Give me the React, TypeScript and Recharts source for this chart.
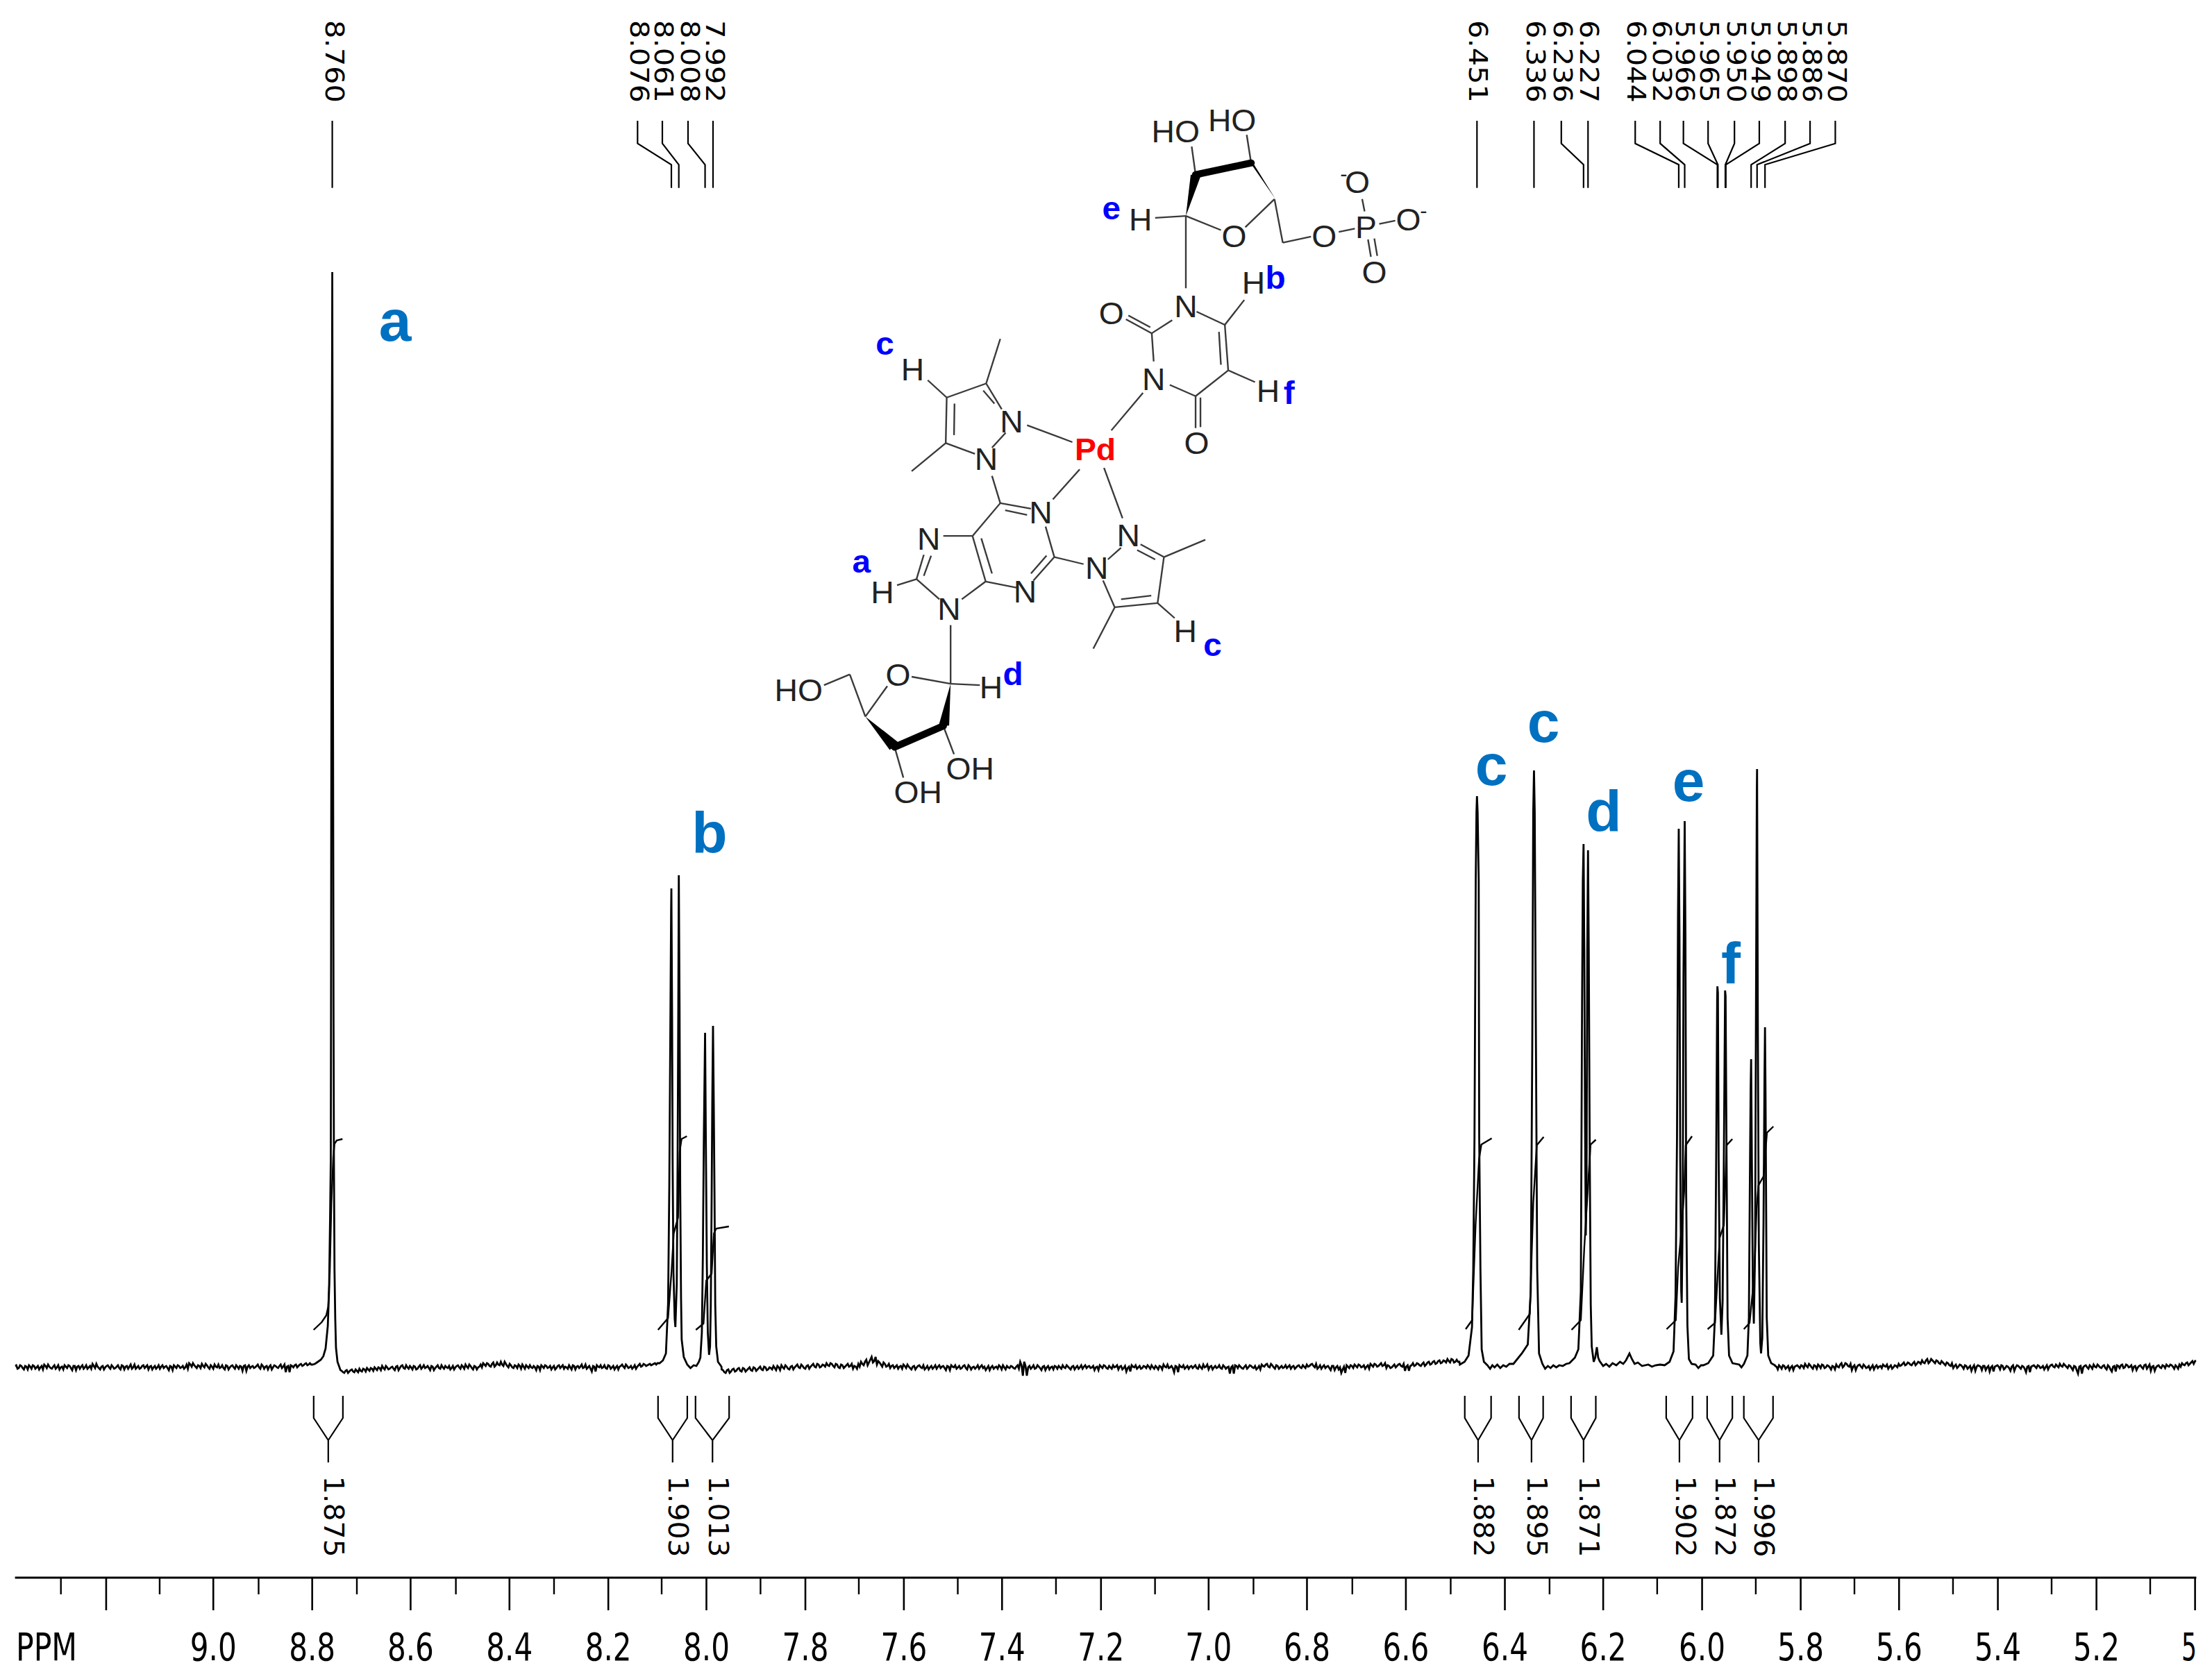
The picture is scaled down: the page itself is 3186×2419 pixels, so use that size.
import React from "react";
import { LineChart, Line, XAxis, YAxis } from "recharts";

// ---------- axis (positions in ppm as drawn on the reference ruler) ----------
const majorTicks = [9.2161, 9.0, 8.8005, 8.602, 8.4026, 8.2032, 8.0053, 7.8057, 7.607, 7.409, 7.2094, 6.9923, 6.7939, 6.5944, 6.3947, 6.1964, 5.9969, 5.798, 5.5996, 5.4003, 5.2014, 5.0025];
const majorLabels = ["", "9.0", "8.8", "8.6", "8.4", "8.2", "8.0", "7.8", "7.6", "7.4", "7.2", "7.0", "6.8", "6.6", "6.4", "6.2", "6.0", "5.8", "5.6", "5.4", "5.2", "5"];
const minorTicks = [9.3074, 9.1082, 8.9086, 8.7104, 8.5107, 8.3127, 8.0956, 7.8962, 7.6979, 7.4983, 7.3002, 7.1004, 6.9018, 6.7024, 6.504, 6.3046, 6.0875, 5.8886, 5.6896, 5.4908, 5.2919, 5.093];

// ---------- spectrum: flat stretches, read left to right ----------
const noiseA = [2,-2,3,-1,2,-3,1,3,-2,2,0,-3,2,4,-1,1,-2,3,0,-3,1,3,-1,2,-4,2,1,-2,3,0,-2,2,5,-1,1,-3,2,0,3,-2,1,-1,3,-3,2,1,-2,4,0,-2,2,-1,3,1,-3,2,0,-2,3,1,-1,2,-4,1,3,-1,2,0,-2,4,6,1,3,-1,2,5,0,3,-2,1,4,0,-1,3,-3,2,0,3,-2,1,2,-5,3,1,-1,2,0,4,-2,2,1,-3,3,0,2,-1,4,1,-7,2,3,0,4,2,5,3,6,4];
const noiseB = [-4,-7,-5,-8,-4,-6,-3,-7,-5,-2,-6,-3,-1,-5,-2,0,-4,-1,2,-3,0,-2,1,-4,2,-1,3,-2,0,2,-3,1,-2,3,0,-1,2,-4,1,-1,3,-2,0,2,-1,-3,2,0,3,-2,1,4,-1,2,-3,1,0,4,6,2,5,1,7,3,4,8,2,5,0,3,-1,2,4,-2,1,3,-1,0,2,-4,1,3,-1,2,0,-3,2,-1,3,1,-2,0,3,-3,2,1,-1,4,0,-2,2,-6,1,3,0,-1,3,-2,2,0,-3,2,1,4,-1,2,0,-2,3,1,5,2,4,3,5,4,6];
const noiseC = [-3,-7,-4,-8,-3,-6,-2,-5,-1,-6,-2,-4,0,-5,-1,-3,1,-4,0,-3,-1,2,-4,0,3,-2,1,-3,2,0,4,-1,2,-2,3,1,5,0,4,1,3,6,2,5,0,4,-1,3,1,5,2,-2,1,5,8,3,11,7,15,9,4,7,1,5,2,-1,3,1,-2,2,4,-1,1,-3,2,0,3,-1,-3,2,0,-2,3,1,-1,2,-4,1,3,0,-2,2,-1,3,-3,1,0,-2,3,1,-1,-4,2,0,-2,1,3,-3,0,2,-1,1,-2,3,8,-12,2,0,-2,3,-1,1,-4,2,0,-3,1,2,-2,0,3,-1,1,-3,2,0,-2,3,1,-1,2,0,-4,1,3,-1,2,-2,0,3,1,-3,2,-1,-6,1,3,0,-2,2,-1,1,3,-2,0,2,-3,1,4,0,-1,2,-7,1,3,0,-2,2,1,-1,3,-2,0,4,1,-3,2,0,-1,3,-2,1,0,-9,2,3,-1,1,-2,3,0,2,-1,-3,2,4,1,5,0,3,-2,2,0,-1,3,1,-2,2,0,3,-1,1,4,2,5,0,-2,3,1,-1,2,-4,2,0,-3,-8,1,3,-1,2,4,0,3,1,-2,3,5,1,4,2,6,3,-1,2,0,4,2,5,1,-5,3,2,6,3,5,2,7,4,8,5,9,6,10,7,9,12,7,11,8];
const noiseD = [2,-3,1,3,-2,2,0,-4,2,1,3,-1,2,5,0,3,-2,2,4,-1,3,0,2,-3,1,4,0,6,2,5,1,-4,3,1,4,-1,2,0,-3,3,1,-1,2,4,1,-2,3,0,2,5,3,7,4,6,3,8,5,7,10,6,12,8,10,6,9,5,7,3,6,2,-1,4,1,3,-2,2,0,-5,3,1,2,-4,2,0,-6,2,1,3,-3,2,-1,1,-5,3,0,2,-2,1,-7,2,1,3,-1,2,0,-3,3,1,4,0,2,5,1,3,-1,2,-4,1,-9,2,0,3,-2,1,4,0,2,-1,3,-3,1,-6,2,3,-1,4,0,3,1,-4,2,0,3,-2,4,1,-5,2,0,3,-1,2,4,1,3,-2,1,4,6,3,7,5,9];

type Pt = { p: number; v: number };
const grid = (from: number, to: number, vals: number[]): Pt[] => vals.map((v, i) => ({ p: from + ((to - from) * i) / (vals.length - 1), v }));
// each flat stretch holds its listed values twice over, the second reading staggered half a sample and two samples along
const dense = (from: number, to: number, vals: number[]): Pt[] => {
  const half = (to - from) / (vals.length - 1) / 2;
  return [...grid(from, to, vals), ...grid(from + half, to - half, vals.slice(2).concat(vals.slice(-1)))];
};
const pts = (rows: number[][]): Pt[] => rows.map(([p, v]) => ({ p, v }));

// ---------- multiplets: ppm, height ----------
const peakA = [[8.795,5],[8.789,8],[8.783,11],[8.778,16],[8.7735,27],[8.769,60],[8.7665,110],[8.7643,220],[8.763,300],[8.7625,520],[8.7615,1100],[8.76,1578],[8.7589,1100],[8.7575,520],[8.7567,300],[8.7555,140],[8.754,70],[8.7525,28],[8.7495,8],[8.744,-3]];
const peakB = [[8.0998,6],[8.093,10],[8.087,20],[8.0826,92],[8.0802,260],[8.0778,515],[8.0765,660],[8.076,690],[8.0745,500],[8.0735,300],[8.0718,137],[8.0693,70],[8.0679,58],[8.0651,120],[8.0634,300],[8.062,520],[8.061,709],[8.0595,520],[8.0582,260],[8.0565,100],[8.0552,40],[8.051,15],[8.044,4],[8.0375,-1],[8.031,3],[8.0255,2],
  [8.0205,8],[8.0175,14],[8.0145,50],[8.0125,160],[8.0105,330],[8.008,482],[8.0065,330],[8.0045,150],[8.0025,50],[8.0,18],[7.998,30],[7.9965,90],[7.995,220],[7.9935,380],[7.992,492],[7.9905,380],[7.989,250],[7.9875,90],[7.9855,30],[7.982,8],[7.975,1]];
const peakC1 = [[6.4855,4],[6.476,8],[6.468,17],[6.461,58],[6.4585,141],[6.456,332],[6.4535,702],[6.452,800],[6.451,823],[6.4497,800],[6.4475,702],[6.4465,332],[6.444,141],[6.4415,26],[6.437,8],[6.43,3]];
const midC = [[6.4245,-2],[6.42,3],[6.4155,0],[6.41,4],[6.404,-1],[6.398,3],[6.392,1],[6.3855,5]];
const peakC2 = [[6.3775,5],[6.3605,20],[6.3485,33],[6.3425,109],[6.3395,460],[6.3375,800],[6.336,860],[6.3345,800],[6.332,460],[6.3295,141],[6.3258,20],[6.319,5]];
const midD = [[6.3135,-2],[6.308,2],[6.3025,-1],[6.297,3],[6.291,0],[6.285,3],[6.278,2],[6.271,5]];
const peakD = [[6.2645,6],[6.2535,14],[6.2465,26],[6.2415,109],[6.239,524],[6.2375,700],[6.236,754],[6.2345,600],[6.233,350],[6.2315,190],[6.23,260],[6.2285,600],[6.227,745],[6.2255,600],[6.2235,300],[6.2215,90],[6.2195,30],[6.2155,8],[6.2125,14],[6.2092,29],[6.2065,14],[6.2035,9],[6.1965,2],[6.1905,5],[6.184,1],[6.1775,6],[6.17,3],[6.1625,8],[6.156,5],[6.1505,10],[6.1434,20],[6.1385,12],[6.133,5],[6.1265,7],[6.118,2],[6.1055,4],[6.098,1],[6.091,3],[6.0815,4]];
const peakE = [[6.0725,3],[6.0625,8],[6.0545,23],[6.0505,102],[6.0475,330],[6.0455,650],[6.044,776],[6.0425,620],[6.041,300],[6.039,110],[6.038,93],[6.036,220],[6.0345,560],[6.032,787],[6.0305,620],[6.029,250],[6.0265,60],[6.0235,12],[6.018,5],[6.01,4],[6.0045,-1],[5.999,3]];
const peakF = [[5.9945,3],[5.9845,6],[5.9745,17],[5.971,72],[5.9685,300],[5.9665,530],[5.966,549],[5.965,540],[5.9635,300],[5.961,100],[5.958,47],[5.9555,95],[5.953,300],[5.9505,543],[5.9495,535],[5.9475,300],[5.9455,72],[5.9425,17],[5.9355,6],[5.922,4],[5.9175,0]];
const peakG = [[5.9125,5],[5.9055,17],[5.9025,72],[5.9005,270],[5.899,400],[5.898,444],[5.8965,300],[5.8945,110],[5.8925,63],[5.89,170],[5.888,550],[5.8865,830],[5.886,862],[5.8845,500],[5.8825,180],[5.8795,35],[5.878,20],[5.8755,42],[5.873,210],[5.871,420],[5.87,490],[5.869,400],[5.8665,72],[5.8635,17],[5.8575,6],[5.85,3]];

const spectrum: Pt[] = [
  ...dense(9.4, 8.8, noiseA), ...pts(peakA), ...dense(8.7435, 8.1015, noiseB), ...pts(peakB),
  ...dense(7.9745, 6.4865, noiseC), ...pts(peakC1), ...pts(midC), ...pts(peakC2), ...pts(midD), ...pts(peakD),
  ...pts(peakE), ...pts(peakF), ...pts(peakG), ...dense(5.8495, 5.0, noiseD),
].sort((a, b) => b.p - a.p);

// ---------- integral curves: ppm, height ----------
const integrals = [
  [[8.7977,54],[8.7814,65],[8.772,75],[8.7683,87],[8.765,137],[8.7618,237],[8.758,303],[8.7556,322],[8.751,327],[8.7394,329]],
  [[8.1029,54],[8.0827,71],[8.0755,140],[8.0712,193],[8.0625,216],[8.0592,311],[8.0555,329],[8.0447,333]],
  [[8.0266,54],[8.0112,63],[8.0056,125],[7.9948,135],[7.9902,193],[7.9855,200],[7.96,203]],
  [[6.4738,55],[6.4608,68],[6.4538,205],[6.4468,300],[6.4422,321],[6.4212,330]],
  [[6.3668,54],[6.3444,77],[6.3374,237],[6.3304,320],[6.3164,332]],
  [[6.2602,54],[6.2415,68],[6.2345,173],[6.2275,256],[6.2219,321],[6.2112,328]],
  [[6.0685,55],[6.0499,68],[6.0453,144],[6.0377,205],[6.0331,253],[6.0299,320],[6.0173,333]],
  [[5.9857,55],[5.9708,64],[5.9614,187],[5.953,205],[5.9474,320],[5.9358,329]],
  [[5.9127,55],[5.9011,64],[5.8917,132],[5.887,229],[5.8833,262],[5.8731,275],[5.8661,338],[5.8531,347]],
];

// ---------- peak picks ----------
const pickValues = ["8.760","8.076","8.061","8.008","7.992","6.451","6.336","6.236","6.227","6.044","6.032","5.966","5.965","5.950","5.949","5.898","5.886","5.870"];
const pickTop = [8.76,8.1442,8.0942,8.0424,7.992,6.451,6.336,6.2809,6.227,6.1318,6.0815,6.0346,5.9848,5.9316,5.8815,5.8294,5.7791,5.7282];
const pickLabelAt = [8.7558,8.1408,8.0921,8.0392,7.9882,6.4495,6.3336,6.2781,6.2248,6.1307,6.078,6.0327,5.9823,5.929,5.879,5.8268,5.7764,5.726];

// ---------- integral brackets ----------
const integralValues = ["1.875","1.903","1.013","1.882","1.895","1.871","1.902","1.872","1.996"];
const bracketStart = [8.7975,8.1029,8.0273,6.4756,6.3662,6.2612,6.0693,5.9867,5.9127];
const bracketEnd = [8.7386,8.0439,7.9595,6.4225,6.3175,6.2113,6.0162,5.9358,5.8538];
const bracketMid = [8.7681,8.0735,7.993,6.4487,6.341,6.236,6.0426,5.9616,5.8829];
const bracketLabelAt = [8.7571,8.0628,7.981,6.4385,6.3302,6.2251,6.0313,5.9507,5.8719];

const pickLevels = [1796, 1763.3, 1732.7, 1699.3];
const bracketLevels = [-41, -73, -105, -137];
const pickLines: Pt[][] = pickValues.map((s, i) => {
  const b = parseFloat(s);
  return [{ p: pickTop[i], v: pickLevels[0] }, { p: pickTop[i], v: pickLevels[1] }, { p: b, v: pickLevels[2] }, { p: b, v: pickLevels[3] }];
});
const bracketLines: Pt[][] = bracketMid.map((m, i) => [
  { p: bracketStart[i], v: bracketLevels[0] }, { p: bracketStart[i], v: bracketLevels[1] }, { p: m, v: bracketLevels[2] },
  { p: m, v: bracketLevels[3] }, { p: m, v: bracketLevels[2] }, { p: bracketEnd[i], v: bracketLevels[1] }, { p: bracketEnd[i], v: bracketLevels[0] },
]);
const pickLabelRows = pickLabelAt.map((p, i) => ({ p, v: 1881.5, t: pickValues[i] }));
const bracketLabelRows = bracketLabelAt.map((p, i) => ({ p, v: -215, t: integralValues[i] }));

const axisTicks = [...majorTicks, ...minorTicks];

function AxisTick(props: any) {
  const { x, y, payload } = props;
  const i = majorTicks.indexOf(payload.value);
  const major = i >= 0;
  const label = major ? majorLabels[i] : "";
  return (
    <g>
      <line x1={x} x2={x} y1={y} y2={y + (major ? 47 : 24)} stroke="#000" strokeWidth={major ? 2.6 : 2.4} />
      {label === "5" ? (
        <text x={3164} y={y + 119} textAnchor="end" fontFamily="DejaVu Sans" fontSize={55} fill="#000" textLength={22} lengthAdjust="spacingAndGlyphs">5</text>
      ) : label ? (
        <text x={x} y={y + 119} textAnchor="middle" fontFamily="DejaVu Sans" fontSize={55} fill="#000" textLength={67} lengthAdjust="spacingAndGlyphs">{label}</text>
      ) : null}
    </g>
  );
}

function RotatedText({ x, y, t, size, len }: any) {
  return (
    <text x={x} y={y} transform={`rotate(90 ${x} ${y})`} textAnchor="middle" dominantBaseline="central" fontFamily="DejaVu Sans" fontSize={size} fill="#000" textLength={len} lengthAdjust="spacingAndGlyphs">{t}</text>
  );
}

// ---------- structure drawing, in its own local drawing units ----------
const bonds = [
  [938,268,1010,298],[1060,292,1120,232],[1120,232,1137,325],[1137,325,1195,312],[1252,302,1285,295],[1305,258,1300,232],[1335,285,1368,278],[1312,318,1318,355],[1325,316,1331,353],
  [875,272,938,268],[938,268,938,422],[960,472,1018,500],[1018,500,1025,597],[1006,515,1010,585],[1018,500,1058,447],[1025,597,1080,622],[1025,597,958,652],[958,652,958,720],[968,655,968,718],[958,652,905,628],[872,578,868,518],[868,518,815,488],[865,505,820,480],[868,518,910,490],
  [850,645,785,725],[560,680,528,625],[545,668,522,640],[528,625,447,655],[447,655,445,752],[463,668,462,735],[445,752,505,775],[540,762,568,730],[528,625,557,530],[445,752,375,812],[447,655,408,618],[612,714,705,750],[540,822,557,880],
  [557,880,620,892],[567,895,612,905],[650,930,668,995],[668,995,625,1045],[652,992,620,1030],[590,1060,527,1047],[527,1047,500,950],[540,1030,518,955],[500,950,557,880],[500,950,440,950],[400,990,385,1042],[415,992,400,1035],[385,1042,432,1085],[478,1085,527,1047],[385,1042,345,1055],
  [665,872,720,808],[770,805,808,912],[845,968,893,995],[838,980,875,1000],[893,995,880,1093],[880,1093,792,1102],[867,1077,805,1085],[792,1102,768,1045],[778,1000,805,975],[893,995,978,958],[792,1102,748,1190],[880,1093,915,1125],[668,995,728,1010],
  [455,1140,455,1265],[455,1265,375,1250],[325,1270,280,1335],[280,1335,248,1245],[248,1245,195,1268],[440,1355,462,1415],[340,1400,358,1465],[455,1265,515,1268],[958,180,950,120],[1072,155,1063,95],
];
const wedges = ["938,268 948,180 968,184", "1066,148 1079,160 1122,232", "280,1335 330,1406 348,1390", "430,1356 452,1354 455,1265"];
const thickBonds = [[958,180,1072,155],[340,1400,440,1355]];
const atoms = [
  ["HO",917,87],["HO",1033,63],["H",845,275],["O",1037,310],["O",1222,310],["P",1308,292],["O",1290,195],["O",1395,275],["O",1325,388],["N",938,460],["H",1077,410],["O",785,475],["N",872,615],["H",1107,640],["O",960,752],
  ["H",377,595],["N",580,705],["N",528,785],["N",640,900],["N",410,955],["N",608,1068],["N",452,1105],["H",315,1070],["N",820,948],["N",755,1018],["H",937,1152],["O",347,1245],["HO",143,1278],["H",538,1272],["OH",495,1445],["OH",388,1495],["-",1262,178],["-",1426,256],
];
const protonTags = [["e",785,255],["b",1122,402],["f",1150,648],["c",320,543],["a",272,1008],["c",993,1185],["d",583,1248]];
const bigLetters = [["a",569,491],["b",1022,1229],["c",2148,1131],["c",2223,1069],["d",2310,1198],["e",2432,1154],["f",2493,1417]];

export default function App() {
  return (
    <div style={{ position: "absolute", left: 0, top: 0, width: 3186, height: 2419, background: "#fff" }}>
      <div style={{ position: "absolute", left: 0, top: 0 }}>
        <LineChart width={3186} height={2419} margin={{ top: 0, right: 22.6, bottom: 0, left: 21.6 }}>
          <XAxis type="number" dataKey="p" domain={[5, 9.4]} reversed allowDataOverflow ticks={axisTicks} interval={0} height={146} tickSize={0} tickMargin={0} tickLine={false} tick={AxisTick} axisLine={{ stroke: "#000", strokeWidth: 3 }} />
          <YAxis hide type="number" domain={[-303, 1970]} allowDataOverflow width={0} />
          <Line data={spectrum} dataKey="v" stroke="#000" strokeWidth={2.8} dot={false} isAnimationActive={false} />
          {integrals.map((c, i) => (
            <Line key={"i" + i} data={pts(c)} dataKey="v" stroke="#000" strokeWidth={2.4} dot={false} isAnimationActive={false} />
          ))}
          {pickLines.map((c, i) => (
            <Line key={"k" + i} data={c} dataKey="v" stroke="#000" strokeWidth={2.2} dot={false} isAnimationActive={false} />
          ))}
          {bracketLines.map((c, i) => (
            <Line key={"b" + i} data={c} dataKey="v" stroke="#000" strokeWidth={2.2} dot={false} isAnimationActive={false} />
          ))}
          <Line data={pickLabelRows} dataKey="v" stroke="none" dot={false} isAnimationActive={false}
            label={(q: any) => <RotatedText key={q.index} x={q.x} y={q.y} t={pickLabelRows[q.index].t} size={37} len={119} />} />
          <Line data={bracketLabelRows} dataKey="v" stroke="none" dot={false} isAnimationActive={false}
            label={(q: any) => <RotatedText key={q.index} x={q.x} y={q.y} t={bracketLabelRows[q.index].t} size={39} len={117} />} />
        </LineChart>
      </div>
      <svg width={3186} height={2419} style={{ position: "absolute", left: 0, top: 0, pointerEvents: "none" }}>
        <text x={23} y={2392} fontFamily="DejaVu Sans" fontSize={55} textLength={88} lengthAdjust="spacingAndGlyphs" fill="#000">PPM</text>
        {bigLetters.map(([t, x, y], i) => (
          <text key={i} x={x as number} y={y as number} textAnchor="middle" fontFamily="Liberation Sans" fontWeight="bold" fontSize={84} fill="#0070c0">{t}</text>
        ))}
        <g transform="translate(1050 130) scale(0.7015 0.676)" fontFamily="Liberation Sans">
          {bonds.map(([a, b, c, d], i) => (
            <line key={i} x1={a} y1={b} x2={c} y2={d} stroke="#3a3a3a" strokeWidth={3.4} />
          ))}
          {thickBonds.map(([a, b, c, d], i) => (
            <line key={i} x1={a} y1={b} x2={c} y2={d} stroke="#000" strokeWidth={15} strokeLinecap="round" />
          ))}
          {wedges.map((w, i) => (
            <polygon key={i} points={w} fill="#000" />
          ))}
          {atoms.map(([t, x, y], i) => (
            <text key={i} x={x as number} y={y as number} dy="0.36em" textAnchor="middle" fontSize={t === "-" ? 44 : 66} fill="#222">{t}</text>
          ))}
          {protonTags.map(([t, x, y], i) => (
            <text key={i} x={x as number} y={y as number} dy="0.3em" textAnchor="middle" fontSize={68} fontWeight="bold" fill="#0000ff">{t}</text>
          ))}
          <text x={752} y={765} dy="0.36em" textAnchor="middle" fontSize={66} fontWeight="bold" fill="#ff0000">Pd</text>
        </g>
      </svg>
    </div>
  );
}
